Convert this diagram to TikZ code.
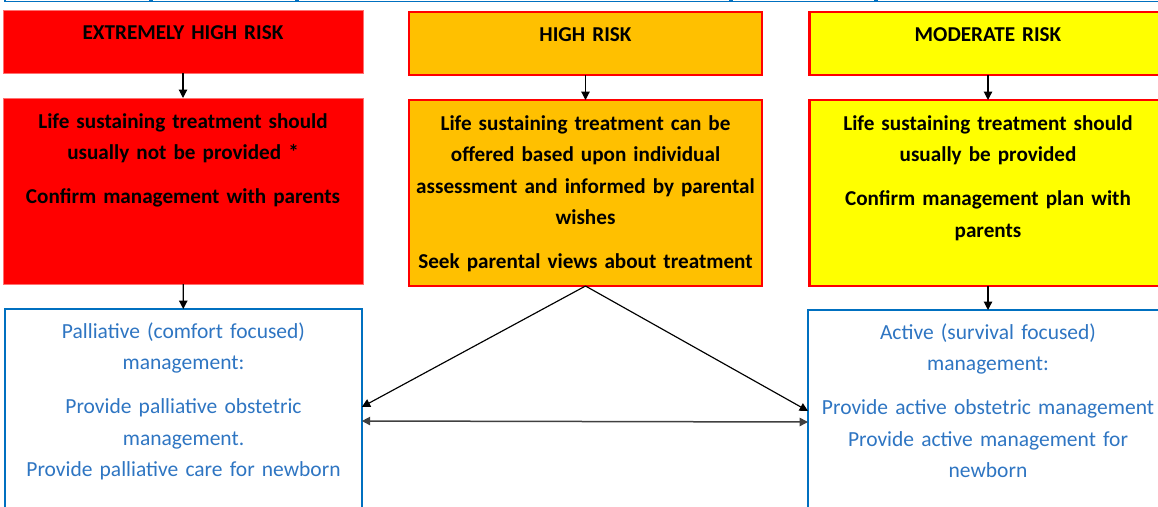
\documentclass[tikz,border=0pt]{standalone}
\usepackage{fontspec}
\setmainfont{Carlito}
\usetikzlibrary{arrows.meta}
\definecolor{riskred}{HTML}{FF0000}
\definecolor{riskpink}{HTML}{FF7070}
\definecolor{riskorange}{HTML}{FFC000}
\definecolor{riskyellow}{HTML}{FFFF00}
\definecolor{mgmtblue}{HTML}{0070C0}
\definecolor{mgmttext}{HTML}{2E75C2}
\tikzset{
	riskbox/.style={rectangle,draw=riskred,line width=1.5pt,outer sep=0pt,inner sep=0pt,
		anchor=north,align=center,text width=#1,font=\fontsize{12.7}{18.9}\selectfont\bfseries},
	headbox/.style={riskbox=#1,text height=17.4pt,text depth=20.4pt},
	treatbox/.style={riskbox=#1,text height=18pt,text depth=93.6pt},
	mgmtbox/.style={rectangle,draw=mgmtblue,line width=0.9pt,outer sep=0pt,inner sep=0pt,
		anchor=north,align=center,text width=#1,text=mgmttext,
		text height=17.4pt,text depth=109.2pt,font=\fontsize{12.9}{18.9}\selectfont}
}
\begin{document}
\begin{tikzpicture}[>={Triangle[length=5pt,width=5pt]},x=0.6pt,y=-0.6pt]
	\def\gap{7.5pt}
	\useasboundingbox (0,0) rectangle (1158,506);
	\clip (0,0) rectangle (1158,506);
	% table above, cut off
	\foreach \l/\r in {5/150,152/296,298/730,732/875,877/1180}
		\draw[mgmtblue,line width=0.9pt] (\l,-30) rectangle (\r,1.5);
	% risk levels
	\node[headbox=216pt,fill=riskred,draw=riskpink,line width=0.5pt] (ehrisk) at (183,10) {EXTREMELY HIGH RISK};
	\node[headbox=212pt,fill=riskorange] (hrisk) at (585.5,12) {HIGH RISK};
	\node[headbox=214pt,fill=riskyellow] (mrisk) at (988,12) {MODERATE RISK};
	% treatment
	\node[treatbox=216pt,fill=riskred,draw=riskpink,line width=0.5pt] (ehtreat) at (183,98)
		{Life sustaining treatment should\\ usually not be provided *\\[\gap] Confirm management with parents};
	\node[treatbox=212pt,fill=riskorange] (hrtreat) at (585.5,100)
		{Life sustaining treatment can be\\ offered based upon individual\\ assessment and informed by parental\\ wishes\\[\gap] Seek parental views about treatment};
	\node[treatbox=214pt,fill=riskyellow] (mrtreat) at (988,100)
		{Life sustaining treatment should\\ usually be provided\\[\gap] Confirm management plan with\\ parents};
	% management
	\node[mgmtbox=214pt] (palliative) at (183.5,309)
		{Palliative (comfort focused)\\ management:\\[\gap] Provide palliative obstetric\\ management.\\ Provide palliative care for newborn};
	\node[mgmtbox=216pt,line width=1.3pt] (active) at (988,310)
		{Active (survival focused)\\ management:\\[\gap] Provide active obstetric management\\ Provide active management for\\ newborn};
	% arrows
	\draw[->,line width=0.7pt] (ehrisk) -- (ehtreat);
	\draw[->,line width=0.7pt] (hrisk) -- (hrtreat);
	\draw[->,line width=0.7pt] (mrisk) -- (mrtreat);
	\draw[->,line width=0.7pt] (ehtreat) -- (palliative);
	\draw[->,line width=0.7pt] (mrtreat) -- (active);
	\draw[->,line width=0.7pt] (hrtreat.south) -- ([yshift=4.5pt]palliative.east);
	\draw[->,line width=0.7pt] (hrtreat.south) -- ([yshift=2.7pt]active.west);
	\draw[<->,line width=0.9pt,black!75] ([yshift=-3.9pt]palliative.east) -- ([yshift=-3.9pt]active.west);
\end{tikzpicture}
\end{document}
